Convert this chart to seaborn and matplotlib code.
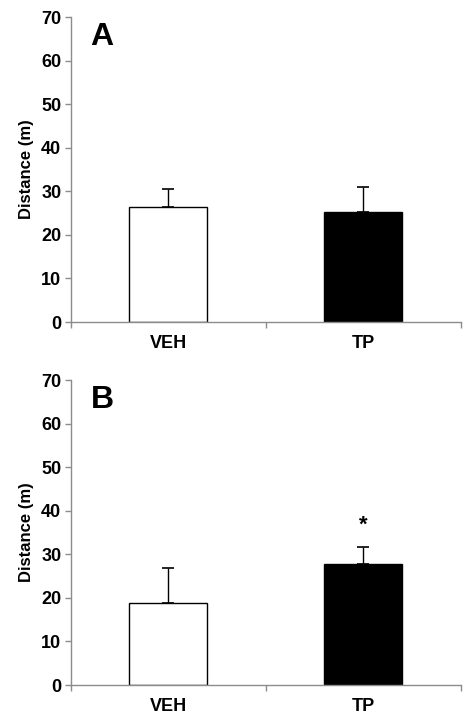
import matplotlib
matplotlib.use("Agg")
import matplotlib.pyplot as plt
import pandas as pd
import seaborn as sns

# values
groups = ["VEH", "TP"]
dist_a = [26.4, 25.2]
sem_a = [4.2, 5.8]
dist_b = [18.9, 27.8]
sem_b = [7.9, 4.0]
panel_labels = ["A", "B"]
star_panel_b = "*"

sns.set_style("white")
plt.rcParams["font.family"] = ["Liberation Sans", "DejaVu Sans"]
plt.rcParams["font.weight"] = "bold"
plt.rcParams["text.color"] = "black"
plt.rcParams["axes.labelcolor"] = "black"
plt.rcParams["xtick.labelcolor"] = "black"
plt.rcParams["ytick.labelcolor"] = "black"

fig = plt.figure(figsize=(4.68, 7.14), dpi=100)
ax_a = fig.add_axes([0.1517, 0.549, 0.8333, 0.427])
ax_b = fig.add_axes([0.1517, 0.0406, 0.8333, 0.427])

spine_col = "#8c8c8c"

for ax, vals, errs, letter in [(ax_a, dist_a, sem_a, panel_labels[0]),
                                (ax_b, dist_b, sem_b, panel_labels[1])]:
    df = pd.DataFrame({"group": groups, "distance": vals})
    sns.barplot(data=df, x="group", y="distance", hue="group",
                palette=["white", "black"], edgecolor="black", linewidth=1,
                width=0.4, errorbar=None, legend=False, ax=ax)
    # upper-only error bars, Excel style
    ax.errorbar(range(len(groups)), vals, yerr=[[0] * len(errs), errs],
                fmt="none", ecolor="black", elinewidth=1, capsize=4,
                capthick=1.2, zorder=3)
    ax.set_xlim(-0.5, 1.5)
    ax.set_ylim(0, 70)
    ax.set_yticks(range(0, 71, 10))
    ax.set_xlabel("")
    ax.set_ylabel("Distance (m)", fontsize=12, fontweight="bold", labelpad=5)
    for s in ["top", "right"]:
        ax.spines[s].set_visible(False)
    for s in ["left", "bottom"]:
        ax.spines[s].set_color(spine_col)
        ax.spines[s].set_linewidth(1)
    ax.tick_params(axis="y", direction="out", length=4, width=1,
                   color=spine_col, labelsize=13, pad=3, left=True)
    ax.tick_params(axis="x", which="major", length=0, labelsize=13, pad=9)
    ax.set_xticks([-0.5, 0.5, 1.5], minor=True)
    ax.tick_params(axis="x", which="minor", direction="out", length=4,
                   width=1, color=spine_col, bottom=True)
    for lab in ax.get_xticklabels() + ax.get_yticklabels():
        lab.set_fontweight("bold")
    ax.text(0.05, 0.985, letter, transform=ax.transAxes, fontsize=23,
            fontweight="bold", va="top", ha="left")

ax_b.text(1, dist_b[1] + sem_b[1] + 5, star_panel_b, ha="center",
          va="center", fontsize=16, fontweight="bold")

fig.savefig("out.png", dpi=100)
